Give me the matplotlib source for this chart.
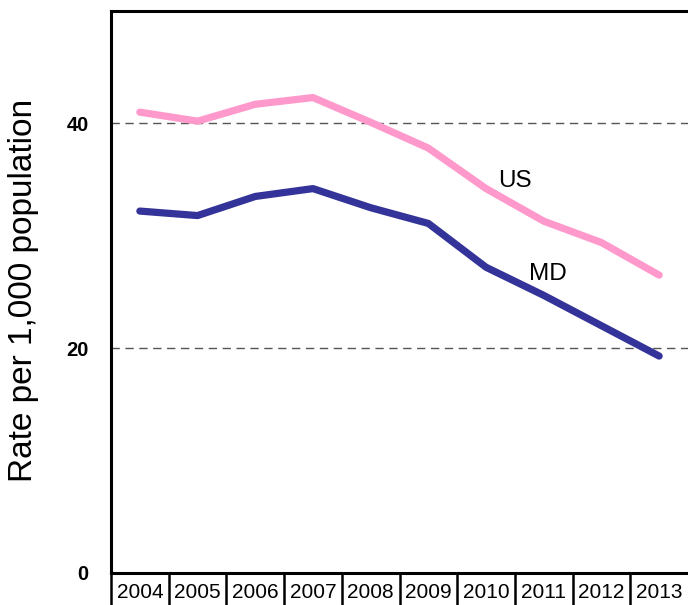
import numpy as np
import matplotlib.pyplot as plt

plt.rcParams['font.family'] = ['Liberation Sans', 'DejaVu Sans']

# Data
years = ['2004', '2005', '2006', '2007', '2008', '2009', '2010', '2011', '2012', '2013']
us_rate = [41.0, 40.2, 41.7, 42.3, 40.1, 37.8, 34.2, 31.3, 29.4, 26.5]
md_rate = [32.2, 31.8, 33.5, 34.2, 32.5, 31.1, 27.2, 24.7, 22.0, 19.3]
y_ticks = [0, 20, 40]

fig = plt.figure(figsize=(6.88, 6.05), dpi=100)
ax = fig.add_axes([111 / 688, 1 - 573 / 605, 1 - 111 / 688, (573 - 11) / 605])

x = np.arange(len(years))
ax.plot(x, us_rate, color='#FF99CC', lw=5.2, solid_capstyle='round', solid_joinstyle='round')
ax.plot(x, md_rate, color='#333399', lw=5.2, solid_capstyle='round', solid_joinstyle='round')

ax.text(6.5, 34.9, 'US', fontsize=17.5, ha='center', va='center')
ax.text(7.08, 26.6, 'MD', fontsize=17.5, ha='center', va='center')

ax.set_xlim(-0.5, len(years) - 0.5)
ax.set_ylim(0, 50)

# dashed gridlines
for v in [20, 40]:
    ax.axhline(v, color='#555555', lw=1, ls=(0, (6, 4)), zorder=0)

ax.set_yticks(y_ticks)
ax.set_yticklabels([str(t) for t in y_ticks], fontsize=14.5, fontweight='bold')
ax.tick_params(axis='y', length=0, pad=16)
ax.set_xticks(x)
ax.set_xticklabels(years, fontsize=15)
ax.tick_params(axis='x', length=0, pad=7)

fig.text(24 / 688, 1 - 290 / 605, 'Rate per 1,000 population', fontsize=24,
         rotation=90, ha='center', va='center')

for s in ['left', 'top', 'bottom']:
    ax.spines[s].set_linewidth(2.2)
ax.spines['right'].set_visible(False)

# label cell borders below the axis
trans = ax.get_xaxis_transform()
for b in np.arange(-0.5, len(years) - 0.5, 1.0):
    ax.plot([b, b], [0, -0.06], transform=trans, color='black', lw=1.8, clip_on=False)

fig.savefig('out.png', dpi=100)
